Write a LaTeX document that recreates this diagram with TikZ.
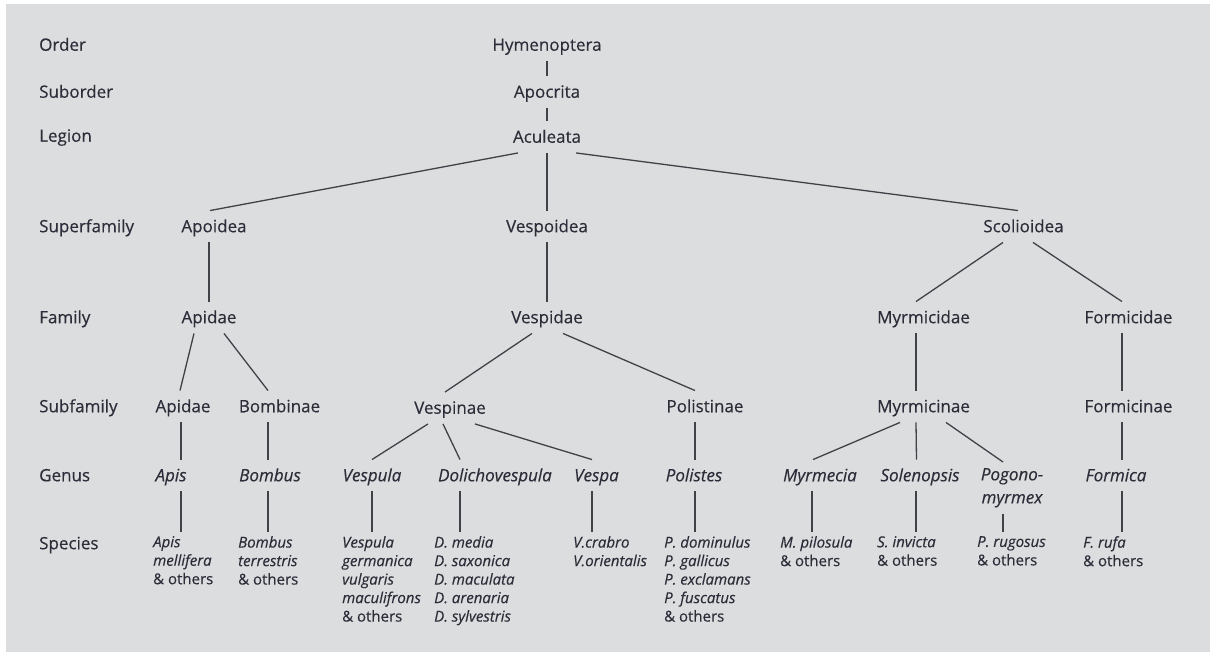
\documentclass[tikz,border=0pt]{standalone}
\usepackage{fontspec}
\setmainfont{Open Sans}[FakeBold=0.35,AutoFakeBold=0.35]
\definecolor{bg}{RGB}{220,221,223}
\definecolor{txt}{RGB}{45,45,58}
\definecolor{ln}{RGB}{65,65,72}
\begin{document}
\begin{tikzpicture}[x=1pt,y=-1pt,
 tx/.style={font=\fontsize{17}{20}\selectfont, text=txt, text height=11.5pt, text depth=0pt, inner xsep=1pt, inner ysep=10pt},
 rank/.style={tx, anchor=west, inner xsep=0pt},
 gen/.style={tx, font=\fontsize{17}{20}\selectfont\itshape},
 gentwo/.style={font=\fontsize{17}{23}\selectfont\itshape, text=txt, align=center, anchor=north, inner xsep=1pt, inner ysep=6pt},
 spec/.style={font=\fontsize{15}{18.5}\selectfont, text=txt, align=left, anchor=north west, inner xsep=0pt, inner ysep=4pt},
 edge/.style={draw=ln, line width=1.3pt}]
\useasboundingbox (0,0) rectangle (1210,652);
\path[fill=bg] (6,4) rectangle (1210,652);

% rank labels
\node[rank] (rOrder) at (39,45) {Order};
\node[rank] (rSub) at (39,92) {Suborder};
\node[rank] (rLeg) at (39,136) {Legion};
\node[rank] (rSupf) at (39,226.5) {Superfamily};
\node[rank] (rFam) at (39,317.5) {Family};
\node[rank] (rSubf) at (39,406.5) {Subfamily};
\node[rank] (rGen) at (39,475.5) {Genus};
\node[rank] (rSpec) at (39,543.5) {Species};

% tree
\node[tx] (hym) at (547,45) {Hymenoptera};
\node[tx] (apo) at (547,92) {Apocrita};
\node[tx] (acu) at (547,137) {Aculeata};

\node[tx] (apoid) at (214,226.5) {Apoidea};
\node[tx] (vespoid) at (547,226.5) {Vespoidea};
\node[tx] (scol) at (1023.5,226.5) {Scolioidea};

\node[tx] (apidF) at (209,317.5) {Apidae};
\node[tx] (vespid) at (547,317.5) {Vespidae};
\node[tx] (myrF) at (923.5,317.5) {Myrmicidae};
\node[tx] (forF) at (1128.5,317.5) {Formicidae};

\node[tx] (apidS) at (183,406.5) {Apidae};
\node[tx] (bomb) at (279.5,406.5) {Bombinae};
\node[tx] (vespin) at (450,408) {Vespinae};
\node[tx] (polin) at (705,406.5) {Polistinae};
\node[tx] (myrS) at (923.5,406.5) {Myrmicinae};
\node[tx] (forS) at (1128.5,406.5) {Formicinae};

\node[gen] (gApis) at (171,475.5) {Apis};
\node[gen] (gBomb) at (270,475.5) {Bombus};
\node[gen] (gVespula) at (372,475.5) {Vespula};
\node[gen] (gDol) at (495,475.5) {Dolichovespula};
\node[gen] (gVespa) at (596.5,475.5) {Vespa};
\node[gen] (gPol) at (694,475.5) {Polistes};
\node[gen] (gMyr) at (820,475.5) {Myrmecia};
\node[gen] (gSol) at (920,475.5) {Solenopsis};
\node[gentwo] (gPog) at (1012,462) {Pogono-\\myrmex};
\node[gen] (gFor) at (1116,475.5) {Formica};

\node[spec] (sApis) at (153,532) {\textit{Apis}\\\textit{mellifera}\\\& others};
\node[spec] (sBomb) at (238,532) {\textit{Bombus}\\\textit{terrestris}\\\& others};
\node[spec] (sVespula) at (342,532) {\textit{Vespula}\\\textit{germanica}\\\textit{vulgaris}\\\textit{maculifrons}\\\& others};
\node[spec] (sDol) at (434,532) {\textit{D. media}\\\textit{D. saxonica}\\\textit{D. maculata}\\\textit{D. arenaria}\\\textit{D. sylvestris}};
\node[spec] (sVespa) at (573,532) {\textit{V.crabro}\\\textit{V.orientalis}};
\node[spec] (sPol) at (664,532) {\textit{P. dominulus}\\\textit{P. gallicus}\\\textit{P. exclamans}\\\textit{P. fuscatus}\\\& others};
\node[spec] (sMyr) at (780,532) {\textit{M. pilosula}\\\& others};
\node[spec] (sSol) at (877,532) {\textit{S. invicta}\\\& others};
\node[spec] (sPog) at (977,532) {\textit{P. rugosus}\\\& others};
\node[spec] (sFor) at (1083,532) {\textit{F. rufa}\\\& others};

% connectors
\draw[edge] (hym.south) -- (hym.south |- apo.north);
\draw[edge] (apo.south) -- (apo.south |- acu.north);
\draw[edge] ([xshift=-29pt]acu.south) -- ([xshift=-4pt]apoid.north);
\draw[edge] (acu.south) -- (vespoid.north);
\draw[edge] ([xshift=29pt]acu.south) -- ([xshift=-5.5pt]scol.north);

\draw[edge] ([xshift=-5pt]apoid.south) -- (apidF.north);
\draw[edge] (vespoid.south) -- (vespid.north);
\draw[edge] ([xshift=-20.5pt]scol.south) -- ([xshift=-7.5pt]myrF.north);
\draw[edge] ([xshift=9.5pt]scol.south) -- ([xshift=-6.5pt]forF.north);

\draw[edge] ([xshift=-15pt]apidF.south) -- ([xshift=-3pt]apidS.north);
\draw[edge] ([xshift=15pt]apidF.south) -- ([xshift=-11.5pt]bomb.north);
\draw[edge] ([xshift=-15pt]vespid.south) -- ([xshift=-5pt]vespin.north);
\draw[edge] ([xshift=16pt]vespid.south) -- ([xshift=-10pt]polin.north);
\draw[edge] ([xshift=-7.5pt]myrF.south) -- ([xshift=-7.5pt]myrS.north);
\draw[edge] ([xshift=-6.5pt]forF.south) -- ([xshift=-6.5pt]forS.north);

\draw[edge] ([xshift=-2pt]apidS.south) -- ([xshift=10pt]gApis.north);
\draw[edge] ([xshift=-11.5pt]bomb.south) -- ([xshift=-2pt]gBomb.north);
\draw[edge] ([xshift=-22pt]vespin.south) -- (gVespula.north);
\draw[edge] ([xshift=-7pt]vespin.south) -- ([xshift=-35pt]gDol.north);
\draw[edge] ([xshift=25pt]vespin.south) -- ([xshift=-4.5pt]gVespa.north);
\draw[edge] ([xshift=-10pt]polin.south) -- ([xshift=1pt]gPol.north);
\draw[edge] ([xshift=-23.5pt]myrS.south) -- ([xshift=-7pt]gMyr.north);
\draw[edge] ([xshift=-7.5pt]myrS.south) -- ([xshift=-3.5pt]gSol.north);
\draw[edge] ([xshift=22.5pt]myrS.south) -- ([xshift=-9pt]gPog.north);
\draw[edge] ([xshift=-6.5pt]forS.south) -- ([xshift=6pt]gFor.north);

\draw[edge] ([xshift=10pt]gApis.south) -- ([xshift=10pt]gApis.south |- sApis.north);
\draw[edge] ([xshift=-2pt]gBomb.south) -- ([xshift=-2pt]gBomb.south |- sBomb.north);
\draw[edge] (gVespula.south) -- (gVespula.south |- sVespula.north);
\draw[edge] ([xshift=-35pt]gDol.south) -- ([xshift=-35pt]gDol.south |- sDol.north);
\draw[edge] ([xshift=-4.5pt]gVespa.south) -- ([xshift=-4.5pt]gVespa.south |- sVespa.north);
\draw[edge] ([xshift=1pt]gPol.south) -- ([xshift=1pt]gPol.south |- sPol.north);
\draw[edge] ([xshift=-8pt]gMyr.south) -- ([xshift=-8pt]gMyr.south |- sMyr.north);
\draw[edge] ([xshift=-4pt]gSol.south) -- ([xshift=-4pt]gSol.south |- sSol.north);
\draw[edge] ([xshift=-9pt]gPog.south) -- ([xshift=-9pt]gPog.south |- sPog.north);
\draw[edge] ([xshift=6pt]gFor.south) -- ([xshift=6pt]gFor.south |- sFor.north);
\end{tikzpicture}
\end{document}
